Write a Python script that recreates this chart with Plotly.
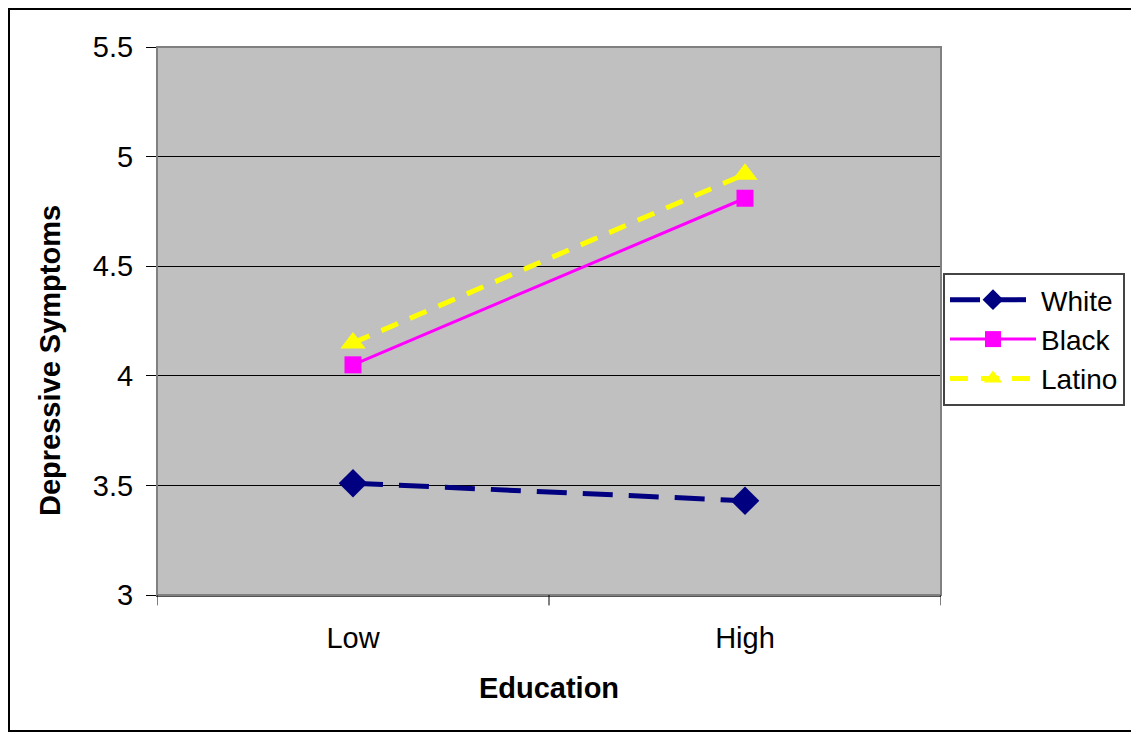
import plotly.graph_objects as go

categories = ["Low", "High"]
white = [3.51, 3.43]
black = [4.05, 4.81]
latino = [4.15, 4.92]
y_ticks = [3, 3.5, 4, 4.5, 5, 5.5]
y_tick_labels = ["3", "3.5", "4", "4.5", "5", "5.5"]

FONT = "Liberation Sans, Arial, sans-serif"

W, H = 1131, 726
L, T = 149, 39
PW, PH = 784, 548

fig = go.Figure()
fig.add_trace(go.Scatter(
    x=[0, 1], y=white, name="White", mode="lines+markers",
    line=dict(color="#000080", width=5, dash="30px,16px"),
    marker=dict(symbol="diamond", size=22, color="#000080"),
))
fig.add_trace(go.Scatter(
    x=[0, 1], y=black, name="Black", mode="lines+markers",
    line=dict(color="#FF00FF", width=3),
    marker=dict(symbol="square", size=17, color="#FF00FF"),
))
fig.add_trace(go.Scatter(
    x=[0, 1], y=latino, name="Latino", mode="lines+markers",
    line=dict(color="#FFFF00", width=5, dash="18px,13px"),
    marker=dict(symbol="triangle-up", size=22, color="#FFFF00"),
))

def px_x(v):
    return (v - L) / PW

def px_y(v):
    return (T + PH - v) / PH

fig.update_layout(
    width=W, height=H,
    margin=dict(l=L, r=W - L - PW, t=T, b=H - T - PH),
    paper_bgcolor="white",
    plot_bgcolor="#C0C0C0",
    font=dict(family=FONT, size=29, color="black"),
    showlegend=True,
    legend=dict(
        x=px_x(935), y=px_y(265), xanchor="left", yanchor="top",
        bgcolor="white", bordercolor="#444444", borderwidth=2,
        font=dict(size=28, family=FONT, color="black"),
        itemwidth=86,
    ),
    xaxis=dict(
        range=[-0.5, 1.5],
        tickvals=[0, 1], ticktext=categories,
        showgrid=False, zeroline=False,
        showline=True, linecolor="#555555", linewidth=2,
        ticks="", tickfont=dict(size=29),
        ticklabelstandoff=16,
        title=dict(text="<b>Education</b>", font=dict(size=29), standoff=25),
    ),
    yaxis=dict(
        range=[3, 5.5],
        tickvals=y_ticks, ticktext=y_tick_labels,
        showgrid=True, gridcolor="black", gridwidth=1,
        zeroline=False,
        showline=True, linecolor="black", linewidth=1,
        ticks="outside", ticklen=10, tickcolor="black",
        tickfont=dict(size=29),
        ticklabelstandoff=7,
    ),
    annotations=[
        dict(text="<b>Depressive Symptoms</b>", xref="paper", yref="paper",
             x=px_x(42), y=px_y(353), xanchor="center", yanchor="middle",
             textangle=-90, showarrow=False, font=dict(size=29, family=FONT)),
    ],
    shapes=[
        dict(type="rect", xref="paper", yref="paper", x0=0, x1=1, y0=0, y1=1,
             line=dict(color="#808080", width=2), fillcolor="rgba(0,0,0,0)", layer="above"),
        *[dict(type="line", xref="x", yref="paper", x0=xv, x1=xv, y0=0, y1=-0.019,
               line=dict(color="black", width=1)) for xv in [-0.5, 0.5, 1.5]],
        dict(type="rect", xref="paper", yref="paper",
             x0=px_x(1), x1=px_x(1124), y0=px_y(723), y1=px_y(1),
             line=dict(color="black", width=2), fillcolor="rgba(0,0,0,0)"),
    ],
)

fig.write_html("out.html")
